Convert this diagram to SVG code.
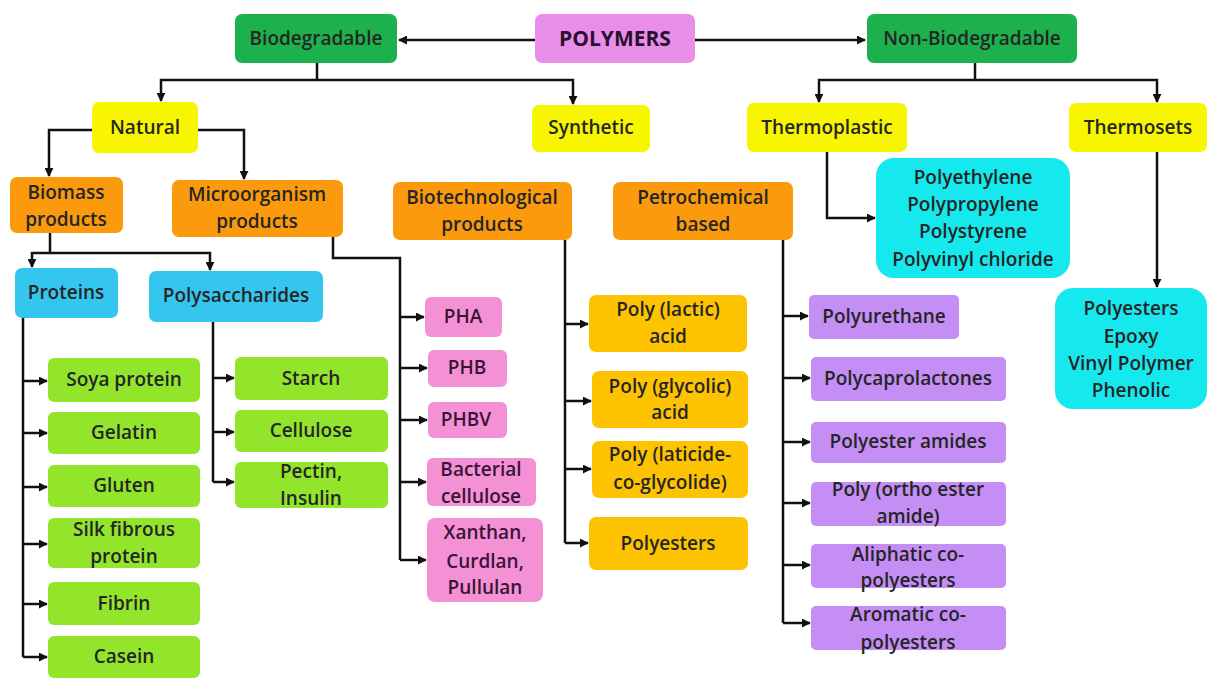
<svg xmlns="http://www.w3.org/2000/svg" width="1208" height="680" viewBox="0 0 1208 680">
<style>
text{font-family:"Open Sans",Lato,"Liberation Sans",sans-serif;font-size:19px;font-weight:600;fill:#252525;text-anchor:middle}
.b{font-weight:bold;font-size:21px;fill:#2a1030}
.g{fill:#1cb14c}.y{fill:#f7f500}.o{fill:#fb9a0c}.lb{fill:#34c6ef}.lg{fill:#93e52c}
.pk{fill:#f391d4}.gd{fill:#fdc300}.pu{fill:#c48ef5}.cy{fill:#15e9ee}.pm{fill:#e98ee8}
.pt{fill:#3a1436}
.c path{fill:none;stroke:#111;stroke-width:2.5}
</style>
<defs>
<marker id="a" viewBox="0 0 10 10" refX="9" refY="5" markerWidth="3.6" markerHeight="3.6" orient="auto"><path d="M0,0 L10,5 L0,10 z" fill="#111"/></marker>
</defs>
<rect width="1208" height="680" fill="#fff"/>
<g class="c">
<path d="M535,40 H399" marker-end="url(#a)"/>
<path d="M695,40 H865" marker-end="url(#a)"/>
<path d="M317,63 V80"/>
<path d="M317,80 H161 V101" marker-end="url(#a)"/>
<path d="M317,80 H573 V104" marker-end="url(#a)"/>
<path d="M975,63 V80"/>
<path d="M975,80 H819 V102" marker-end="url(#a)"/>
<path d="M975,80 H1157 V102" marker-end="url(#a)"/>
<path d="M92,130 H49 V176" marker-end="url(#a)"/>
<path d="M198,130 H244 V179" marker-end="url(#a)"/>
<path d="M50,233 V253"/>
<path d="M50,253 H32 V267" marker-end="url(#a)"/>
<path d="M50,253 H210 V270" marker-end="url(#a)"/>
<path d="M333,237 V258 H400 V560"/>
<path d="M400,317 H424" marker-end="url(#a)"/>
<path d="M400,368 H427" marker-end="url(#a)"/>
<path d="M400,420 H427" marker-end="url(#a)"/>
<path d="M400,482 H426" marker-end="url(#a)"/>
<path d="M400,560 H426" marker-end="url(#a)"/>
<path d="M23,318 V657"/>
<path d="M23,381 H47" marker-end="url(#a)"/>
<path d="M23,433 H47" marker-end="url(#a)"/>
<path d="M23,487 H47" marker-end="url(#a)"/>
<path d="M23,544 H47" marker-end="url(#a)"/>
<path d="M23,604 H47" marker-end="url(#a)"/>
<path d="M23,657 H47" marker-end="url(#a)"/>
<path d="M213,322 V482"/>
<path d="M213,378 H234" marker-end="url(#a)"/>
<path d="M213,432 H234" marker-end="url(#a)"/>
<path d="M213,482 H234" marker-end="url(#a)"/>
<path d="M565,240 V543"/>
<path d="M565,324 H588" marker-end="url(#a)"/>
<path d="M565,401 H591" marker-end="url(#a)"/>
<path d="M565,469 H591" marker-end="url(#a)"/>
<path d="M565,543 H588" marker-end="url(#a)"/>
<path d="M783,240 V623"/>
<path d="M783,316 H808" marker-end="url(#a)"/>
<path d="M783,378 H810" marker-end="url(#a)"/>
<path d="M783,442 H810" marker-end="url(#a)"/>
<path d="M783,503 H810" marker-end="url(#a)"/>
<path d="M783,565 H810" marker-end="url(#a)"/>
<path d="M783,623 H810" marker-end="url(#a)"/>
<path d="M827,152 V218 H875" marker-end="url(#a)"/>
<path d="M1157,152 V287" marker-end="url(#a)"/>
</g>
<g id="polymers"><rect class="pm" x="535" y="14" width="160" height="49" rx="7"/><text class="b" x="615" y="46">POLYMERS</text></g>
<g id="biodegradable"><rect class="g" x="235" y="14" width="162" height="49" rx="7"/><text x="316" y="45">Biodegradable</text></g>
<g id="nonbio"><rect class="g" x="867" y="14" width="210" height="49" rx="7"/><text x="972" y="45">Non-Biodegradable</text></g>
<g id="natural"><rect class="y" x="92" y="102" width="106" height="51" rx="7"/><text x="145" y="134">Natural</text></g>
<g id="synthetic"><rect class="y" x="532" y="105" width="118" height="47" rx="7"/><text x="591" y="134">Synthetic</text></g>
<g id="thermoplastic"><rect class="y" x="747" y="103" width="160" height="49" rx="7"/><text x="827" y="134">Thermoplastic</text></g>
<g id="thermosets"><rect class="y" x="1069" y="103" width="138" height="49" rx="7"/><text x="1138" y="134">Thermosets</text></g>
<g id="biomass"><rect class="o" x="10" y="177" width="113" height="56" rx="7"/><text x="66" y="199">Biomass</text><text x="66" y="226">products</text></g>
<g id="micro"><rect class="o" x="172" y="180" width="171" height="57" rx="7"/><text x="257" y="201">Microorganism</text><text x="257" y="228">products</text></g>
<g id="biotech"><rect class="o" x="393" y="182" width="179" height="58" rx="7"/><text x="482" y="204">Biotechnological</text><text x="482" y="231">products</text></g>
<g id="petro"><rect class="o" x="613" y="182" width="180" height="58" rx="7"/><text x="703" y="204">Petrochemical</text><text x="703" y="231">based</text></g>
<g id="proteins"><rect class="lb" x="15" y="268" width="103" height="50" rx="7"/><text x="66" y="299">Proteins</text></g>
<g id="polysacch"><rect class="lb" x="149" y="271" width="174" height="51" rx="7"/><text x="236" y="302">Polysaccharides</text></g>
<g id="thermoplastics-list"><rect class="cy" x="876" y="158" width="194" height="120" rx="18"/><text x="973" y="184">Polyethylene</text><text x="973" y="211">Polypropylene</text><text x="973" y="238">Polystyrene</text><text x="973" y="266">Polyvinyl chloride</text></g>
<g id="thermosets-list"><rect class="cy" x="1055" y="288" width="152" height="121" rx="18"/><text x="1131" y="315">Polyesters</text><text x="1131" y="343">Epoxy</text><text x="1131" y="370">Vinyl Polymer</text><text x="1131" y="397">Phenolic</text></g>
<g id="soya"><rect class="lg" x="48" y="358" width="152" height="44" rx="6"/><text x="124" y="386">Soya protein</text></g>
<g id="gelatin"><rect class="lg" x="48" y="412" width="152" height="42" rx="6"/><text x="124" y="439">Gelatin</text></g>
<g id="gluten"><rect class="lg" x="48" y="465" width="152" height="42" rx="6"/><text x="124" y="492">Gluten</text></g>
<g id="silk"><rect class="lg" x="48" y="518" width="152" height="50" rx="6"/><text x="124" y="536">Silk fibrous</text><text x="124" y="563">protein</text></g>
<g id="fibrin"><rect class="lg" x="48" y="582" width="152" height="43" rx="6"/><text x="124" y="610">Fibrin</text></g>
<g id="casein"><rect class="lg" x="48" y="636" width="152" height="42" rx="6"/><text x="124" y="663">Casein</text></g>
<g id="starch"><rect class="lg" x="235" y="357" width="153" height="43" rx="6"/><text x="311" y="385">Starch</text></g>
<g id="cellulose"><rect class="lg" x="235" y="410" width="153" height="42" rx="6"/><text x="311" y="437">Cellulose</text></g>
<g id="pectin"><rect class="lg" x="235" y="462" width="153" height="46" rx="6"/><text x="311" y="478">Pectin,</text><text x="311" y="505">Insulin</text></g>
<g id="pha"><rect class="pk" x="425" y="297" width="77" height="40" rx="6"/><text class="pt" x="463" y="323">PHA</text></g>
<g id="phb"><rect class="pk" x="428" y="350" width="79" height="37" rx="6"/><text class="pt" x="467" y="374">PHB</text></g>
<g id="phbv"><rect class="pk" x="428" y="402" width="79" height="36" rx="6"/><text class="pt" x="466" y="426">PHBV</text></g>
<g id="bactcell"><rect class="pk" x="427" y="458" width="109" height="48" rx="6"/><text class="pt" x="481" y="476">Bacterial</text><text class="pt" x="481" y="503">cellulose</text></g>
<g id="xanthan"><rect class="pk" x="427" y="518" width="116" height="84" rx="8"/><text class="pt" x="485" y="539">Xanthan,</text><text class="pt" x="485" y="568">Curdlan,</text><text class="pt" x="485" y="594">Pullulan</text></g>
<g id="pla"><rect class="gd" x="589" y="295" width="158" height="57" rx="7"/><text x="668" y="316">Poly (lactic)</text><text x="668" y="343">acid</text></g>
<g id="pga"><rect class="gd" x="592" y="371" width="156" height="57" rx="7"/><text x="670" y="393">Poly (glycolic)</text><text x="670" y="419">acid</text></g>
<g id="plga"><rect class="gd" x="592" y="441" width="156" height="57" rx="7"/><text x="670" y="461">Poly (laticide-</text><text x="670" y="489">co-glycolide)</text></g>
<g id="polyesters-syn"><rect class="gd" x="589" y="517" width="159" height="53" rx="7"/><text x="668" y="550">Polyesters</text></g>
<g id="pu"><rect class="pu" x="809" y="295" width="150" height="44" rx="5"/><text x="884" y="323">Polyurethane</text></g>
<g id="pcl"><rect class="pu" x="811" y="357" width="195" height="44" rx="5"/><text x="908" y="385">Polycaprolactones</text></g>
<g id="pea"><rect class="pu" x="811" y="422" width="195" height="41" rx="5"/><text x="908" y="448">Polyester amides</text></g>
<g id="poea"><rect class="pu" x="811" y="482" width="195" height="44" rx="5"/><text x="908" y="496">Poly (ortho ester</text><text x="908" y="523">amide)</text></g>
<g id="aliphatic"><rect class="pu" x="811" y="544" width="195" height="44" rx="5"/><text x="908" y="561">Aliphatic co-</text><text x="908" y="587">polyesters</text></g>
<g id="aromatic"><rect class="pu" x="811" y="606" width="195" height="44" rx="5"/><text x="908" y="621">Aromatic co-</text><text x="908" y="649">polyesters</text></g>
</svg>
